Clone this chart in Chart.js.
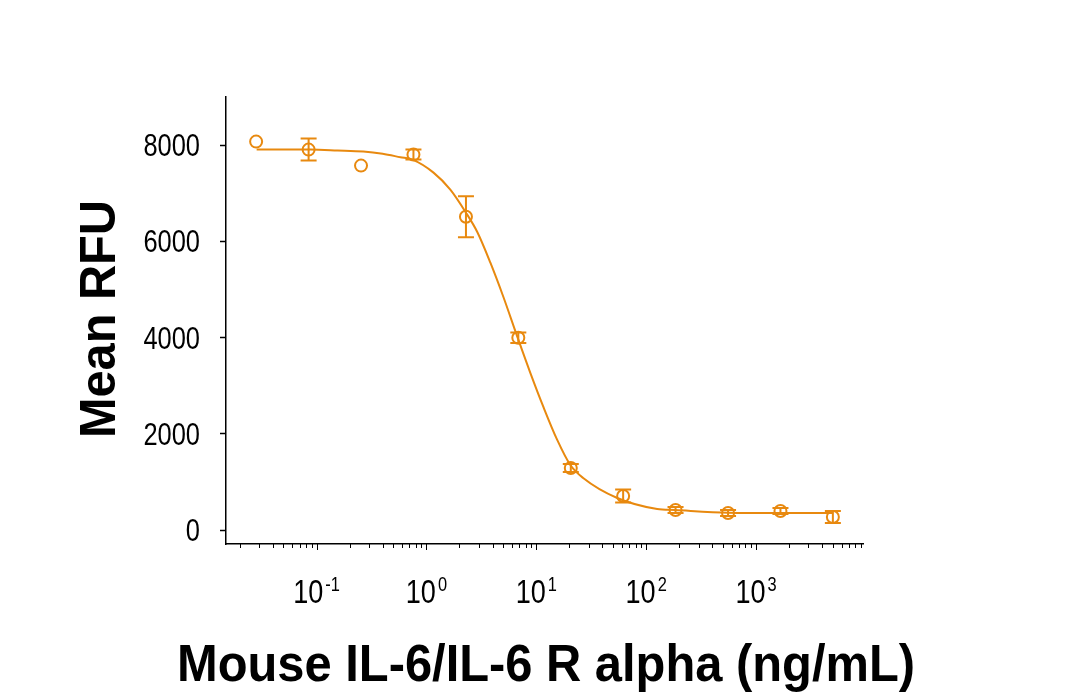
<!DOCTYPE html>
<html>
<head>
<meta charset="utf-8">
<script src="https://cdn.jsdelivr.net/npm/chart.js@4.4.1/dist/chart.umd.min.js"></script>
<style>html,body{margin:0;background:#fff}canvas{display:block}</style>
</head>
<body>
<canvas id="c" width="1089" height="692"></canvas>
<script>
// measured points (ng/mL vs mean RFU) and error bars
const conc=[0.0282,0.0847,0.254,0.762,2.29,6.86,20.6,61.7,185,556,1667,5000];
const rfu=[8073,7907,7574,7803,6512,3995,1290,707,416,354,395,270];
const rfuErr=[0,229,0,104,427,110,83,135,62,62,62,125];
// fitted curve
const fitX=[0.0285,0.088,0.155,0.267,0.4,0.58,0.746,1.16,1.65,2.26,2.91,3.82,5.01,6.72,8.82,11.6,15.5,20.4,26.7,54.5,126,183,556,1650,5000];
const fitY=[7907,7907,7890,7868,7820,7748,7698,7428,7075,6617,6190,5556,4848,4016,3267,2559,1873,1352,1082,666,437,416,362,354,354];
const yTicks=[0,2000,4000,6000,8000];
const xDecades=[-1,0,1,2,3];

const ORANGE='#e8890f';
const SANS="'Liberation Sans',Arial,sans-serif";
const SQUEEZE=0.82; // tick labels use a condensed face in the original

function fitText(ctx,txt,x,y,font,width){
  ctx.font=font;
  const w=ctx.measureText(txt).width;
  ctx.save();
  ctx.translate(x,y);
  ctx.scale(width/w,1);
  ctx.textAlign='center';
  ctx.fillText(txt,0,0);
  ctx.restore();
}

function narrowText(ctx,txt,x,y,font,align){
  ctx.font=font;
  const w=ctx.measureText(txt).width*SQUEEZE;
  const x0=align==='right'?x-w:x;
  ctx.save();
  ctx.translate(x0,y);
  ctx.scale(SQUEEZE,1);
  ctx.textAlign='left';
  ctx.fillText(txt,0,0);
  ctx.restore();
  return w;
}

const extras={
  id:'extras',
  afterDatasetsDraw(chart){
    const {ctx,scales:{x,y}}=chart;
    ctx.save();
    ctx.strokeStyle=ORANGE;ctx.lineWidth=2;
    conc.forEach((c,i)=>{
      if(!rfuErr[i]) return;
      const px=x.getPixelForValue(c);
      const top=y.getPixelForValue(rfu[i]+rfuErr[i]);
      const bot=y.getPixelForValue(rfu[i]-rfuErr[i]);
      ctx.beginPath();
      ctx.moveTo(px,top);ctx.lineTo(px,bot);
      ctx.moveTo(px-8,top);ctx.lineTo(px+8,top);
      ctx.moveTo(px-8,bot);ctx.lineTo(px+8,bot);
      ctx.stroke();
    });
    ctx.restore();
  },
  afterDraw(chart){
    const {ctx,chartArea:a,scales:{x,y}}=chart;
    ctx.save();
    // log ticks, major and minor
    ctx.strokeStyle='#000';ctx.lineWidth=1;
    for(let d=-2;d<=3;d++){
      for(let m=1;m<=9;m++){
        const v=m*Math.pow(10,d);
        if(v<x.min||v>x.max) continue;
        const px=Math.round(x.getPixelForValue(v))+0.5;
        ctx.beginPath();
        ctx.moveTo(px,a.bottom);
        ctx.lineTo(px,a.bottom+(m===1?6:4));
        ctx.stroke();
      }
    }
    ctx.fillStyle='#000';ctx.textBaseline='alphabetic';
    // y labels
    yTicks.forEach(v=>{
      const py=y.getPixelForValue(v);
      narrowText(ctx,String(v),200,py+11,'31px '+SANS,'right');
    });
    // decade labels 10^n
    xDecades.forEach(d=>{
      const px=x.getPixelForValue(Math.pow(10,d));
      const big='33px '+SANS, small='20px '+SANS;
      ctx.font=big;const w1=ctx.measureText('10').width*SQUEEZE;
      ctx.font=small;const w2=ctx.measureText(String(d)).width*SQUEEZE;
      const x0=px-(w1+2+w2)/2;
      narrowText(ctx,'10',x0,603,big,'left');
      narrowText(ctx,String(d),x0+w1+2,591,small,'left');
    });
    // axis titles
    fitText(ctx,'Mouse IL-6/IL-6 R alpha (ng/mL)',546,681,'bold 52px '+SANS,738);
    ctx.save();
    ctx.translate(115,319);
    ctx.rotate(-Math.PI/2);
    fitText(ctx,'Mean RFU',0,0,'bold 50px '+SANS,238);
    ctx.restore();
    ctx.restore();
  }
};

new Chart(document.getElementById('c'),{
  type:'scatter',
  data:{datasets:[
    {label:'points',data:conc.map((c,i)=>({x:c,y:rfu[i]})),
     pointStyle:'circle',pointRadius:6,pointBorderWidth:2,
     borderColor:ORANGE,backgroundColor:'rgba(0,0,0,0)',showLine:false},
    {label:'fit',data:fitX.map((c,i)=>({x:c,y:fitY[i]})),
     showLine:true,pointRadius:0,borderColor:ORANGE,borderWidth:2,
     cubicInterpolationMode:'monotone',fill:false}
  ]},
  options:{
    responsive:false,animation:false,
    layout:{padding:{left:0,right:226,top:97,bottom:0}},
    plugins:{legend:{display:false},tooltip:{enabled:false}},
    scales:{
      x:{type:'logarithmic',min:0.015,max:9400,
        afterFit:s=>{s.height=148;},
        grid:{display:false},
        border:{display:true,color:'#000',width:1.5},
        ticks:{display:false}},
      y:{type:'linear',min:-290,max:9000,
        afterBuildTicks:s=>{s.ticks=yTicks.map(v=>({value:v}));},
        afterFit:s=>{s.width=226;},
        grid:{display:true,drawOnChartArea:false,drawTicks:true,tickLength:6,tickColor:'#000',tickWidth:1.5},
        border:{display:true,color:'#000',width:1.5},
        ticks:{display:false}}
    }
  },
  plugins:[extras]
});
</script>
</body>
</html>
